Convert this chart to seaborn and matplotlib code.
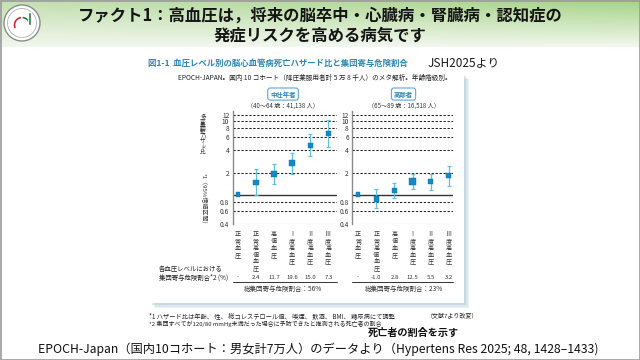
import numpy as np
import pandas as pd
import matplotlib
matplotlib.use("Agg")
import matplotlib.pyplot as plt
from matplotlib.patches import Rectangle, Circle, Wedge
from matplotlib.ticker import NullLocator
import seaborn as sns

# --- data ---
categories = ["正常血圧", "正常高値血圧", "高値血圧", "Ⅰ度高血圧", "Ⅱ度高血圧", "Ⅲ度高血圧"]

mid_hr = [1.0, 1.47, 1.90, 2.68, 4.64, 6.74]
mid_lo = [1.0, 1.0, 1.38, 1.92, 3.33, 4.45]
mid_hi = [1.0, 2.22, 2.60, 3.66, 6.67, 10.2]
mid_weight = [4, 5, 5.5, 5.5, 4.5, 4]
mid_paf = ["-", "2.4", "11.7", "19.6", "15.0", "7.3"]

old_hr = [1.0, 0.87, 1.14, 1.51, 1.51, 1.81]
old_lo = [1.0, 0.65, 0.91, 1.19, 1.17, 1.32]
old_hi = [1.0, 1.19, 1.42, 1.92, 1.92, 2.44]
old_weight = [4, 5, 4.5, 6, 4.5, 4.5]
old_paf = ["-", "-1.0", "2.8", "12.5", "5.5", "3.2"]

yticks = [0.4, 0.6, 0.8, 2, 4, 6, 8, 10, 12]
ytick_labels = ["0.4", "0.6", "0.8", "2", "4", "6", "8", "10", "12"]

sns.set_theme(style="white")
plt.rcParams["font.family"] = ["Noto Sans CJK JP", "DejaVu Sans"]

fig = plt.figure(figsize=(6.4, 3.6), dpi=100)

# background layer in pixel coordinates
bg = fig.add_axes([0, 0, 1, 1])
bg.set_xlim(0, 640)
bg.set_ylim(360, 0)
bg.axis("off")

# green header gradient
h, w = 46, 640
top_l = np.array([196, 224, 178]) / 255
top_r = np.array([165, 211, 134]) / 255
bottom = np.array([242, 247, 238]) / 255
xs = np.linspace(0, 1, w)[None, :, None]
ys = np.linspace(0, 1, h)[:, None, None]
top = top_l * (1 - xs) + top_r * xs
grad = top * (1 - ys) + bottom * ys
bg.imshow(grad, extent=(0, 640, 47, 0), aspect="auto", zorder=0)
bg.add_patch(Rectangle((0.5, 0.5), 639, 359, fill=False, ec="#9a9a9a", lw=1.2, zorder=5))

# logo
bg.add_patch(Circle((22, 23), 18, fc="white", ec="#8c8c8c", lw=1.0, zorder=2))
bg.add_patch(Circle((22, 23), 14.5, fc="none", ec="#b0b0b0", lw=0.6, zorder=2))
bg.add_patch(Wedge((22, 25), 9, 150, 270, width=3.0, fc="#c8242b", zorder=3))
bg.add_patch(Wedge((22, 25), 9, 270, 360, width=3.0, fc="#1e7a3c", zorder=3))
bg.add_patch(Rectangle((28, 12), 3, 13, fc="#1e7a3c", zorder=3))

# slide title
bg.text(320, 16, "ファクト1：高血圧は，将来の脳卒中・心臓病・腎臓病・認知症の",
        ha="center", va="center", fontsize=11.8, fontweight="bold", color="#151515")
bg.text(320, 36, "発症リスクを高める病気です",
        ha="center", va="center", fontsize=11.8, fontweight="bold", color="#151515")

# figure card with soft shadow
for off, a in [(5, 0.25), (3.5, 0.35), (2, 0.5)]:
    bg.add_patch(Rectangle((150 + off, 74 + off), 314, 229, fc="#b9cfdc", ec="none", alpha=a, zorder=1))
bg.add_patch(Rectangle((148, 72), 316, 231, fc="white", ec="none", zorder=1.5))

bg.text(148, 63, "図1-1  血圧レベル別の脳心血管病死亡ハザード比と集団寄与危険割合",
        ha="left", va="center", fontsize=6.05, fontweight="bold", color="#2b86b4", zorder=4)
bg.text(428, 63, "JSH2025より", ha="left", va="center", fontsize=8.5, color="#1a1a1a", zorder=4)
bg.text(178, 78, "EPOCH-JAPAN。国内 10 コホート（降圧薬服用者計 5 万 8 千人）のメタ解析。年齢階級別。",
        ha="left", va="center", fontsize=4.75, color="#222", zorder=4)

# y label (vertical writing)
bg.text(203, 114, "\n".join("多変量調整ハザ｜ド比"), ha="center", va="top",
        fontsize=4.1, linespacing=0.7, color="#333", zorder=4)
bg.text(203, 173, "*1（95%信頼区間）", ha="center", va="top", rotation=270,
        fontsize=4.3, color="#333", zorder=4)

bg.text(159, 269, "各血圧レベルにおける", ha="left", va="center", fontsize=4.6, color="#222", zorder=4)
bg.text(159, 278, "集団寄与危険割合*2 (%)", ha="left", va="center", fontsize=4.6, color="#222", zorder=4)

# footnotes
bg.text(149, 316, "*1 ハザード比は年齢、 性、 総コレステロール値、 喫煙、 飲酒、 BMI、 糖尿病にて調整",
        ha="left", va="center", fontsize=4.5, color="#222", zorder=4)
bg.text(149, 324, "*2 集団すべてが120/80 mmHg未満だった場合に予防できたと推測される死亡者の割合",
        ha="left", va="center", fontsize=4.3, color="#222", zorder=4)
bg.text(427, 316, "（文献7より改変）", ha="left", va="center", fontsize=4.3, color="#222", zorder=4)

bg.text(368, 333, "死亡者の割合を示す", ha="left", va="center", fontsize=7.3,
        fontweight="bold", color="#111", zorder=4)
bg.text(318, 349, "EPOCH-Japan（国内10コホート：男女計7万人）のデータより（Hypertens Res 2025; 48, 1428–1433)",
        ha="center", va="center", fontsize=8.8, color="#111", zorder=4)


def draw_panel(rect, hr, lo, hi, weight, paf, xlim, header, sub, total):
    ax = fig.add_axes(rect)
    ax.patch.set_alpha(0)
    df = pd.DataFrame({"pos": np.arange(len(hr)), "hr": hr, "lo": lo, "hi": hi, "w": weight})
    ax.set_yscale("log")
    ax.set_ylim(0.4, 13.8)
    ax.set_xlim(*xlim)

    for t in yticks:
        ax.axhline(t, color="#222", lw=0.75, ls=(0, (2.2, 1.6)), zorder=1)
    ax.axhline(1, color="#333", lw=1.0, zorder=1)

    eb = df[df.hi > df.lo]
    ax.errorbar(eb.pos, eb.hr, yerr=[eb.hr - eb.lo, eb.hi - eb.hr], fmt="none",
                ecolor="#5fc1dd", elinewidth=0.9, capsize=1.6, capthick=0.9, zorder=2)
    sns.scatterplot(data=df, x="pos", y="hr", size="w",
                    sizes={v: (v * 0.8) ** 2 for v in set(weight)},
                    marker="s", color="#1689c4", edgecolor="#0b6fa3", linewidth=0.3,
                    legend=False, ax=ax, zorder=3)

    ax.set_yticks(yticks)
    ax.set_yticklabels(ytick_labels)
    ax.yaxis.set_minor_locator(NullLocator())
    ax.set_xticks([])
    ax.set_xlabel("")
    ax.set_ylabel("")
    ax.tick_params(axis="y", length=0, labelsize=4.8, pad=2.5, labelcolor="#333")
    for s in ["top", "right", "bottom"]:
        ax.spines[s].set_visible(False)
    ax.spines["left"].set_color("#8a8a8a")
    ax.spines["left"].set_linewidth(1.0)

    tr = ax.get_xaxis_transform()
    for i, cat in enumerate(categories):
        ax.text(i, -0.055, "\n".join(cat), transform=tr, ha="center", va="top",
                fontsize=4.4, linespacing=0.8, color="#333")
        ax.text(i, -0.47, paf[i], transform=tr, ha="center", va="center",
                fontsize=4.3, color="#333")
    ax.plot(list(xlim), [-0.51, -0.51], transform=tr, color="#333", lw=0.7, clip_on=False)
    ax.text(2.5, -0.575, total, transform=tr, ha="center", va="center", fontsize=4.7, color="#333")

    ax.text(2.5, 1.147, header, transform=tr, ha="center", va="center", fontsize=4.6,
            fontweight="bold", color="#2a86b8",
            bbox=dict(boxstyle="round,pad=0.4", fc="white", ec="#5aa8d6", lw=0.8))
    ax.text(2.5, 1.044, sub, transform=tr, ha="center", va="center", fontsize=4.4, color="#333")
    return ax


draw_panel([232.7 / 640, 1 - 224 / 360, 104.3 / 640, 113.3 / 360],
           mid_hr, mid_lo, mid_hi, mid_weight, mid_paf, (-0.28, 5.48),
           "中壮年者", "（40～64 歳：41,138 人）", "総集団寄与危険割合：56%")
draw_panel([352.3 / 640, 1 - 224 / 360, 101 / 640, 113.3 / 360],
           old_hr, old_lo, old_hi, old_weight, old_paf, (-0.33, 5.25),
           "高齢者", "（65～89 歳：16,518 人）", "総集団寄与危険割合：23%")

fig.savefig("out.png", dpi=100)
